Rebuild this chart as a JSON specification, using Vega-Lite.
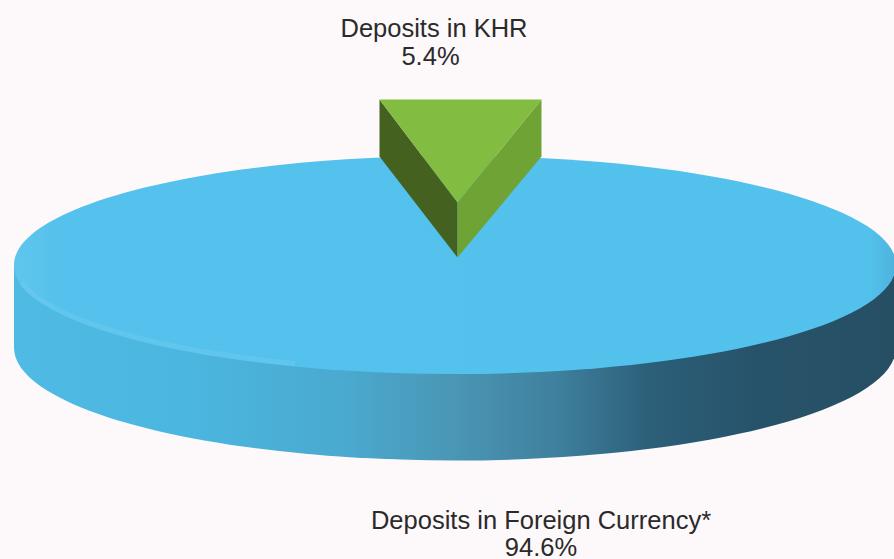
{
"$schema":"https://vega.github.io/schema/vega-lite/v6.json",
"width":894,"height":559,
"autosize":{"type":"fit","contains":"padding"},
"padding":0,
"background":"#FDF8FA",
"config":{"view":{"stroke":null}},
"data":{"values":[
{"category":"Deposits in Foreign Currency*","share":0.946},
{"category":"Deposits in KHR","share":0.054}
]},
"encoding":{},
"layer":[
{"transform":[{"filter":"datum.share>0.5"}],
 "mark":{"type":"point","filled":true,"opacity":1,"size":4,"strokeWidth":0,
 "shape":"M-431,-12.5 L-431,70 A441,113 0 0 0 451,70 L451,-12.5 Z",
 "fill":{"gradient":"linear","x1":0,"x2":1,"y1":0,"y2":0,"stops":[
 {"offset":0,"color":"#4FBAE4"},{"offset":0.2,"color":"#4BB6E0"},{"offset":0.38,"color":"#4AA9CE"},{"offset":0.5,"color":"#4A96B5"},{"offset":0.62,"color":"#3E7F9C"},{"offset":0.72,"color":"#2C5F79"},{"offset":0.84,"color":"#27536A"},{"offset":1,"color":"#264F64"}]}}},
{"transform":[{"filter":"datum.share>0.5"}],
 "mark":{"type":"point","filled":true,"opacity":1,"size":4,"strokeWidth":0,
 "shape":"M-431,-12.5 A441,109 0 1 1 451,-12.5 A441,109 0 1 1 -431,-12.5 Z",
 "fill":{"gradient":"linear","x1":0,"x2":1,"y1":0,"y2":0,"stops":[
 {"offset":0,"color":"#60C5ED"},{"offset":0.05,"color":"#54C2EC"},{"offset":0.97,"color":"#52C1EC"},{"offset":1,"color":"#4DB3DC"}]}}},
{"transform":[{"filter":"datum.share>0.5"}],
 "mark":{"type":"point","filled":false,"opacity":0.45,"size":4,"strokeWidth":5,"stroke":"#72CDF1","fill":null,
 "shape":"M-424,5 A441,109 0 0 0 -150,86"}},
{"transform":[{"filter":"datum.share<0.5"}],
 "mark":{"type":"point","filled":true,"opacity":1,"size":4,"strokeWidth":0,"fill":"#44611F",
 "shape":"M-65.5,-178 L12.5,-75 L12.5,-20 L-65.5,-121 Z"}},
{"transform":[{"filter":"datum.share<0.5"}],
 "mark":{"type":"point","filled":true,"opacity":1,"size":4,"strokeWidth":0,"fill":"#70A336",
 "shape":"M96.5,-178 L12.5,-75 L12.5,-20 L96.5,-121 Z"}},
{"transform":[{"filter":"datum.share<0.5"}],
 "mark":{"type":"point","filled":true,"opacity":1,"size":4,"strokeWidth":0,"fill":"#82BC41",
 "shape":"M-65.5,-178 L96.5,-178 L12.5,-75 Z"}},
{"transform":[{"filter":"datum.share<0.5"}],
 "mark":{"type":"text","font":"Liberation Sans","fontSize":25.5,"color":"#2A2A2A","align":"center","baseline":"alphabetic","dx":-11,"dy":-241},
 "encoding":{"text":{"field":"category"}}},
{"transform":[{"filter":"datum.share<0.5"}],
 "mark":{"type":"text","font":"Liberation Sans","fontSize":25.5,"color":"#2A2A2A","align":"center","baseline":"alphabetic","dx":-14.5,"dy":-213},
 "encoding":{"text":{"field":"share","format":".1%"}}},
{"transform":[{"filter":"datum.share>0.5"}],
 "mark":{"type":"text","font":"Liberation Sans","fontSize":25.5,"color":"#2A2A2A","align":"center","baseline":"alphabetic","dx":96,"dy":251.5},
 "encoding":{"text":{"field":"category"}}},
{"transform":[{"filter":"datum.share>0.5"}],
 "mark":{"type":"text","font":"Liberation Sans","fontSize":25.5,"color":"#2A2A2A","align":"center","baseline":"alphabetic","dx":96,"dy":278},
 "encoding":{"text":{"field":"share","format":".1%"}}}
]
}
